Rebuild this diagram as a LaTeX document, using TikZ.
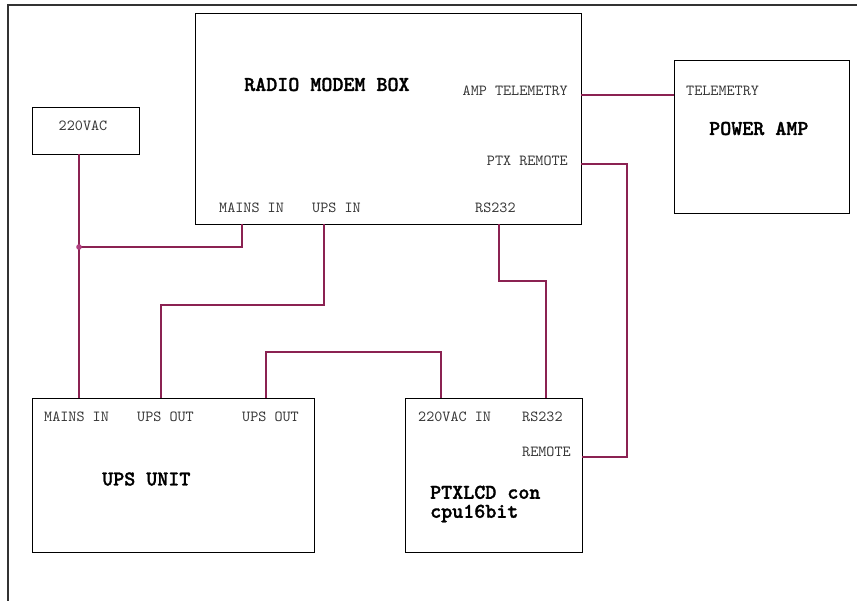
\documentclass[tikz,border=0pt]{standalone}
\usepackage{fontspec}
\newfontfamily\portfont{lmmono10-regular.otf}
\newfontfamily\titlefont{lmmonolt10-bold.otf}[FakeBold=1.5]
\usetikzlibrary{positioning}
\definecolor{wirecol}{RGB}{139,34,82}
\definecolor{dotcol}{RGB}{176,64,128}
\definecolor{portgray}{RGB}{55,55,55}
\definecolor{framegray}{RGB}{50,50,50}

\begin{document}
\begin{tikzpicture}[x=1pt, y=-1pt,
  unit/.style = {rectangle, draw, line width=1pt, inner sep=0pt, anchor=north west},
  port/.style = {font=\portfont\fontsize{15.4}{17}\selectfont, text=portgray, inner sep=0pt},
  title/.style = {font=\titlefont\fontsize{21}{19}\selectfont, inner sep=0pt},
  wire/.style = {draw=wirecol, line width=1.2pt}]
        \useasboundingbox (0,0) rectangle (857,601);
        \draw[framegray, line width=2pt] (8,601) -- (8,5) -- (857,5);

        % nodes
        \node[unit, minimum width=107pt, minimum height=47pt] (vac) at (32,107) {};
        \node[port] (vac_label) at (83,126) {220VAC};

        \node[unit, minimum width=386pt, minimum height=211pt] (modem) at (195,13) {};
        \node[title, anchor=west] (modem_title) at (244,84.5) {RADIO MODEM BOX};
        \node[port, anchor=east] (modem_tele) at (568,90.5) {AMP TELEMETRY};
        \node[port, anchor=east] (modem_ptx) at (568,161) {PTX REMOTE};
        \node[port, anchor=west] (modem_mains) at (219,207.5) {MAINS IN};
        \node[port, anchor=west] (modem_upsin) at (312,207.5) {UPS IN};
        \node[port, anchor=west] (modem_rs) at (475,207.5) {RS232};

        \node[unit, minimum width=175pt, minimum height=153pt] (amp) at (674,60) {};
        \node[port, anchor=west] (amp_tele) at (686,90.5) {TELEMETRY};
        \node[title, anchor=west] (amp_title) at (709,128.5) {POWER AMP};

        \node[unit, minimum width=282pt, minimum height=154pt] (ups) at (32,398) {};
        \node[port, anchor=west] (ups_mains) at (44,417) {MAINS IN};
        \node[port, anchor=west] (ups_out) at (137,417) {UPS OUT};
        \node[port, anchor=west] (ups_out2) at (242,417) {UPS OUT};
        \node[title, anchor=west] (ups_title) at (102,479) {UPS UNIT};

        \node[unit, minimum width=177pt, minimum height=154pt] (ptx) at (405,398) {};
        \node[port, anchor=west] (ptx_ac) at (418,417) {220VAC IN};
        \node[port, anchor=west] (ptx_rs) at (522,417) {RS232};
        \node[port, anchor=west] (ptx_remote) at (522,452) {REMOTE};
        \node[title, anchor=north west, align=left] (ptx_title) at (430,485.5) {PTXLCD con\\cpu16bit};

        % pins
        \coordinate (vac_pin) at (79,154);
        \coordinate (junction) at (79,247);
        \coordinate (ups_mains_pin) at (79,398);
        \coordinate (modem_mains_pin) at (242,224);
        \coordinate (modem_ups_pin) at (324,224);
        \coordinate (ups_bend) at (161,305);
        \coordinate (ups_out_pin) at (161,398);
        \coordinate (ups_out2_pin) at (266,398);
        \coordinate (ac_bend) at (441,352);
        \coordinate (ptx_ac_pin) at (441,398);
        \coordinate (modem_rs_pin) at (499,224);
        \coordinate (rs_bend) at (546,281);
        \coordinate (ptx_rs_pin) at (546,398);
        \coordinate (modem_tele_pin) at (581,95);
        \coordinate (amp_tele_pin) at (674,95);
        \coordinate (modem_ptx_pin) at (581,164);
        \coordinate (remote_bend) at (627,457);
        \coordinate (ptx_remote_pin) at (582,457);

        % connections
        \draw[wire] (vac_pin) -- (ups_mains_pin);
        \draw[wire] (modem_mains_pin) |- (junction);
        \fill[dotcol] (junction) circle (2.8pt);
        \draw[wire] (modem_ups_pin) |- (ups_bend) -- (ups_out_pin);
        \draw[wire] (ups_out2_pin) |- (ac_bend) -- (ptx_ac_pin);
        \draw[wire] (modem_rs_pin) |- (rs_bend) -- (ptx_rs_pin);
        \draw[wire] (modem_tele_pin) -- (amp_tele_pin);
        \draw[wire] (modem_ptx_pin) -| (remote_bend) -- (ptx_remote_pin);
      \end{tikzpicture}
\end{document}
